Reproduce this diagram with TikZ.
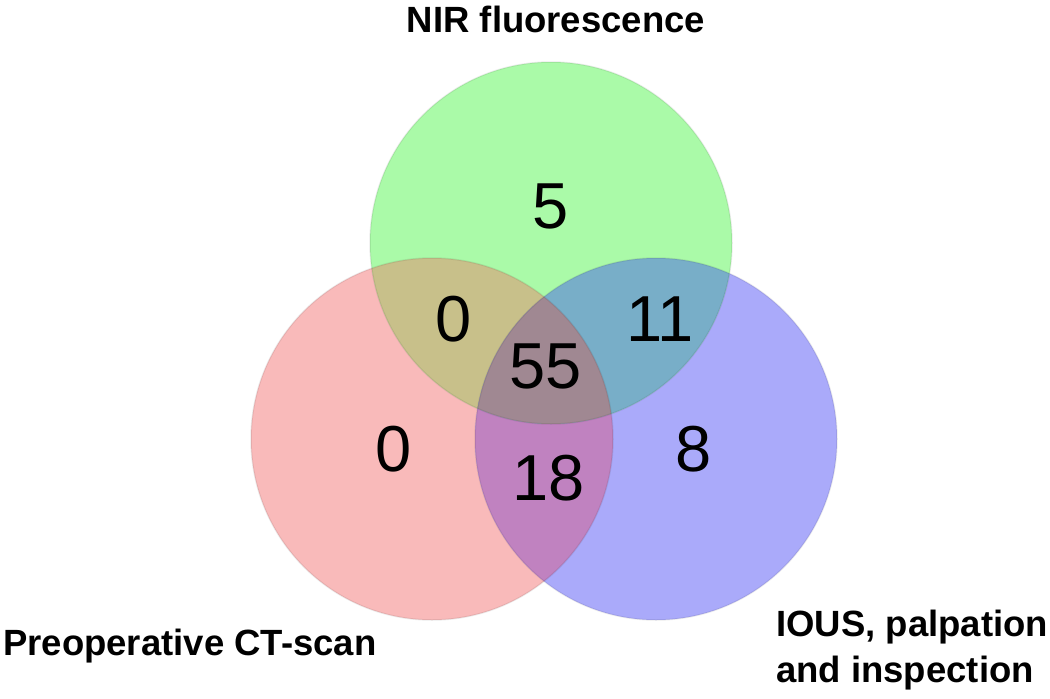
\documentclass[tikz,border=0pt]{standalone}
\usepackage{fontspec}
\setmainfont{Liberation Sans}
\begin{document}
\begin{tikzpicture}[x=1pt,y=-1pt,
  lbl/.style={inner sep=0pt,font=\fontsize{36.5}{44}\selectfont\bfseries},
  num/.style={inner sep=0pt,anchor=base,font=\fontsize{65}{70}\selectfont},
  rim/.style={draw=black,draw opacity=0.08,line width=1.5pt}]
\useasboundingbox (0,0) rectangle (1050,699);
\fill[white] (0,0) rectangle (1050,699);
\definecolor{cR}{RGB}{249,186,186}
\definecolor{cB}{RGB}{170,170,250}
\definecolor{cG}{RGB}{170,250,168}
\definecolor{cRG}{RGB}{200,192,138}
\definecolor{cGB}{RGB}{120,174,200}
\definecolor{cRB}{RGB}{192,130,192}
\definecolor{cRGB}{RGB}{160,136,146}
\coordinate (G) at (551,243);
\coordinate (R) at (432,439);
\coordinate (B) at (656,439);
\def\rr{181pt}
\fill[cR] (R) circle (\rr);
\fill[cB] (B) circle (\rr);
\fill[cG] (G) circle (\rr);
\begin{scope}\clip (R) circle (\rr); \fill[cRG] (G) circle (\rr); \end{scope}
\begin{scope}\clip (R) circle (\rr); \fill[cRB] (B) circle (\rr); \end{scope}
\begin{scope}\clip (G) circle (\rr); \fill[cGB] (B) circle (\rr); \end{scope}
\begin{scope}\clip (R) circle (\rr); \clip (G) circle (\rr); \fill[cRGB] (B) circle (\rr); \end{scope}
\path[rim] (R) circle (\rr);
\path[rim] (B) circle (\rr);
\path[rim] (G) circle (\rr);
\node[lbl,anchor=base] (tG) at (556,32) {NIR fluorescence};
\node[lbl,anchor=base west] (tR) at (3,655) {Preoperative CT-scan};
\node[lbl,anchor=base west] (tB1) at (776,636) {IOUS, palpation};
\node[lbl,anchor=base west] (tB2) at (776,682) {and inspection};
\node[num] (n5) at (551,228) {5};
\node[num] (n0a) at (454,341) {0};
\node[num] (n11) at (660,341) {11};
\node[num] (n55) at (546,388) {55};
\node[num] (n0b) at (394,471) {0};
\node[num] (n8) at (694,471) {8};
\node[num] (n18) at (549,500) {18};
\end{tikzpicture}
\end{document}
